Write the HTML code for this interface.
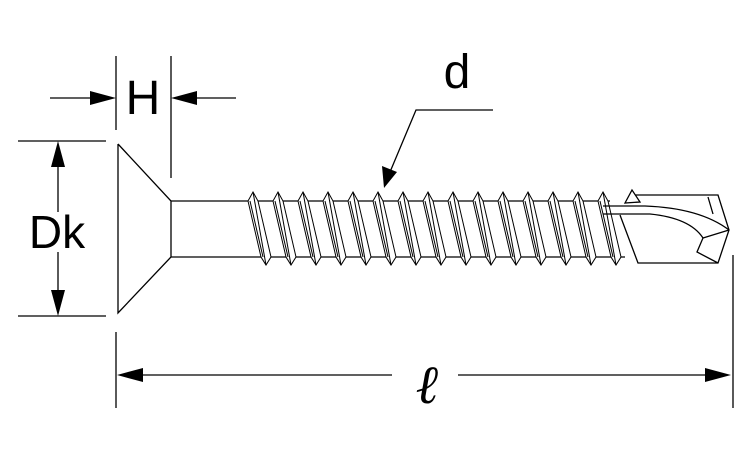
<!DOCTYPE html>
<html><head><meta charset="utf-8"><style>
html,body{margin:0;padding:0;background:#fff;}
svg{display:block}
text{font-family:"Liberation Sans",sans-serif;fill:#000}
</style></head><body>
<svg width="750" height="450" viewBox="0 0 750 450" xmlns="http://www.w3.org/2000/svg" xmlns:xlink="http://www.w3.org/1999/xlink">
<defs>
<g id="t" stroke="#000" stroke-width="1" fill="#fff">
<polygon points="-5,201 0,192 5,201 18,257 13,265 8,257"/>
<line x1="0" y1="192" x2="13" y2="265"/>
<line x1="-3" y1="201" x2="10" y2="257"/>
</g>
</defs>
<g stroke="#000" stroke-width="1.3" fill="none">
<line x1="116" y1="56" x2="116" y2="130"/>
<line x1="171" y1="56" x2="171" y2="178"/>
<line x1="50" y1="98" x2="92" y2="98"/>
<line x1="196" y1="98" x2="236" y2="98"/>
<line x1="18" y1="141" x2="106" y2="141"/>
<line x1="18" y1="316" x2="106" y2="316"/>
<line x1="58" y1="165" x2="58" y2="212"/>
<line x1="58" y1="252" x2="58" y2="292"/>
<line x1="116" y1="332" x2="116" y2="408"/>
<line x1="733" y1="255" x2="733" y2="408"/>
<line x1="140" y1="375" x2="392" y2="375"/>
<line x1="458" y1="375" x2="708" y2="375"/>
<polyline points="493,110 416,110 390,172"/>
<polyline points="118,144 118,313 171,257 171,201 118,144"/>
<line x1="171" y1="201" x2="250" y2="201"/>
<line x1="171" y1="257" x2="262" y2="257"/>
<line x1="250" y1="201" x2="610" y2="201"/>
<line x1="262" y1="257" x2="625" y2="257"/>
</g>
<use xlink:href="#t" href="#t" x="253"/>
<use xlink:href="#t" href="#t" x="278"/>
<use xlink:href="#t" href="#t" x="303"/>
<use xlink:href="#t" href="#t" x="328"/>
<use xlink:href="#t" href="#t" x="353"/>
<use xlink:href="#t" href="#t" x="378"/>
<use xlink:href="#t" href="#t" x="403"/>
<use xlink:href="#t" href="#t" x="428"/>
<use xlink:href="#t" href="#t" x="453"/>
<use xlink:href="#t" href="#t" x="478"/>
<use xlink:href="#t" href="#t" x="503"/>
<use xlink:href="#t" href="#t" x="528"/>
<use xlink:href="#t" href="#t" x="553"/>
<use xlink:href="#t" href="#t" x="578"/>
<use xlink:href="#t" href="#t" x="603"/>
<g stroke="#000" stroke-width="1.3" fill="none">
<polyline points="630,195 718,195 729,230 718,263 638,263 620,215" fill="#fff"/>
<polygon points="625,203 632,190 640,202" fill="#fff"/>
<path d="M603,206 L645,206 Q700,208 729,230"/>
<path d="M603,214 L650,214 Q690,218 703,238 L697,252 L718,263"/>
<line x1="703" y1="238" x2="729" y2="230"/>
<line x1="708" y1="197" x2="713" y2="214"/>
</g>
<g fill="#000">
<polygon points="116,98 90,91 90,105"/>
<polygon points="171,98 197,91 197,105"/>
<polygon points="58,141 51,167 65,167"/>
<polygon points="58,316 51,290 65,290"/>
<polygon points="117,375 143,368 143,382"/>
<polygon points="731,375 705,368 705,382"/>
<polygon points="384,188 382,166 397,172"/>
</g>
<text x="143" y="114" font-size="48" text-anchor="middle">H</text>
<text x="57" y="248" font-size="46" text-anchor="middle">Dk</text>
<text x="457" y="88" font-size="48" text-anchor="middle">d</text>
<text x="428" y="403" font-size="54" text-anchor="middle" font-style="italic" style="font-family:'DejaVu Serif',serif;font-weight:bold">ℓ</text>
</svg>
</body></html>
